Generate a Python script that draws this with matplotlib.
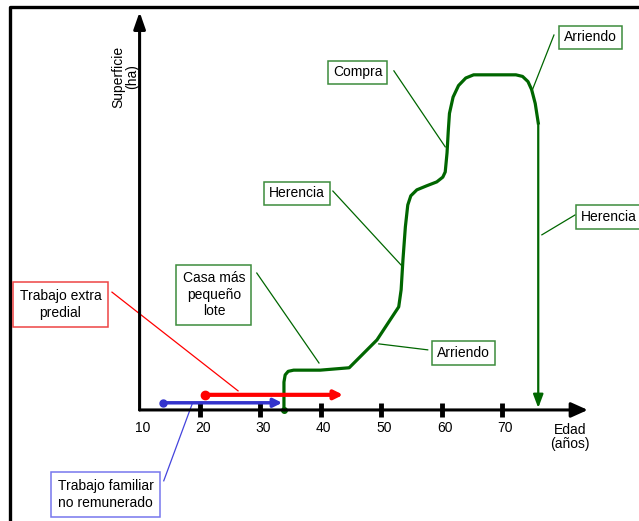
import matplotlib.pyplot as plt

# Datos
edad = [33.9, 33.9, 34.1, 34.6, 35.5, 39.9, 44.7, 49.3, 52.9, 53.3, 53.6, 54.0, 54.4,
        54.9, 55.9, 57.5, 59.2, 60.2, 60.6, 60.9, 61.1, 61.3, 61.9, 62.8, 64.0, 65.3,
        72.3, 73.4, 74.3, 74.9, 75.5, 76.0]
superficie = [0.0, 7.0, 8.8, 9.7, 10.0, 10.0, 10.6, 17.6, 25.9, 30.2, 37.7, 46.0, 51.5,
              53.8, 55.3, 56.3, 57.3, 58.5, 59.8, 64.6, 70.0, 74.5, 78.6, 81.5, 83.4, 84.2,
              84.2, 83.8, 82.5, 80.5, 77.0, 72.1]
edad_herencia = 76.0
ticks = [20, 30, 40, 50, 60, 70]
tick_labels = ['10', '20', '30', '40', '50', '60', '70']
extra_predial = [20.8, 43.7]
nivel_extra = 3.8
familiar = [13.9, 33.6]
nivel_familiar = 1.8

fuente = ['Liberation Sans Narrow', 'Liberation Sans', 'DejaVu Sans']
plt.rcParams['font.family'] = fuente

fig = plt.figure(figsize=(6.39, 5.21), dpi=100)
ax = fig.add_axes([0, 0, 1, 1])
ax.set_xlim(-13.11, 92.68)
ax.set_ylim(-27.9, 103.0)
ax.axis('off')

verde = '#006600'
verde_caja = '#3c8c3c'

# marco
ax.plot([10/639, 10/639, 1.01], [-0.01, 1 - 7/521, 1 - 7/521], color='black', lw=2.4,
        transform=ax.transAxes, clip_on=False)

# ejes con flechas
ax.annotate('', xy=(84.2, 0), xytext=(10, 0),
            arrowprops=dict(arrowstyle='-|>,head_length=1.0,head_width=0.45', color='black', lw=2.2,
                            shrinkA=0, shrinkB=0))
ax.annotate('', xy=(10, 100), xytext=(10, 0),
            arrowprops=dict(arrowstyle='-|>,head_length=1.0,head_width=0.35', color='black', lw=2.2,
                            shrinkA=0, shrinkB=0))
for t in ticks:
    ax.plot([t, t], [-1.7, 1.7], color='black', lw=3.5, solid_capstyle='butt')
for i, lab in enumerate(tick_labels):
    ax.text(10 + 10 * i + 0.5, -4.5, lab, ha='center', va='center', fontsize=10)

ax.text(81.3, -6.8, 'Edad\n(años)', ha='center', va='center', fontsize=10, linespacing=1.0)
ax.text(7.6, 83.7, 'Superficie\n(ha)', ha='center', va='center', fontsize=10, rotation=90,
        linespacing=1.0)

# curva de superficie
ax.plot(edad, superficie, color=verde, lw=2.3, solid_joinstyle='round')
ax.plot([edad[0]], [0], 'o', color=verde, ms=4)
ax.annotate('', xy=(edad_herencia, 0.5), xytext=(edad_herencia, superficie[-1]),
            arrowprops=dict(arrowstyle='-|>,head_length=0.8,head_width=0.3', color=verde, lw=1.6,
                            shrinkA=0, shrinkB=0))

# trabajo extra predial y familiar
ax.annotate('', xy=(extra_predial[1], nivel_extra), xytext=(extra_predial[0], nivel_extra),
            arrowprops=dict(arrowstyle='-|>,head_length=0.5,head_width=0.25', color='red', lw=3,
                            shrinkA=0, shrinkB=0))
ax.plot([extra_predial[0]], [nivel_extra], 'o', color='red', ms=6)
ax.annotate('', xy=(familiar[1], nivel_familiar), xytext=(familiar[0], nivel_familiar),
            arrowprops=dict(arrowstyle='-|>,head_length=0.5,head_width=0.25', color='#3333cc', lw=2.5,
                            shrinkA=0, shrinkB=0))
ax.plot([familiar[0]], [nivel_familiar], 'o', color='#3333cc', ms=5)

# cajas de texto con conectores
def caja(x, y, txt, borde, pad=0.35):
    ax.text(x, y, txt, ha='center', va='center', fontsize=10, linespacing=1.25,
            bbox=dict(boxstyle='square,pad=%s' % pad, fc='white', ec=borde, lw=1.1))

def linea(x0, y0, x1, y1, color):
    ax.plot([x0, x1], [y0, y1], color=color, lw=0.9)

linea(5.43, 29.6, 26.3, 4.8, 'red')
caja(-3.1, 26.5, 'Trabajo extra\npredial', '#ee4444', pad=0.5)

linea(29.4, 34.4, 39.7, 11.8, verde)
caja(22.3, 29.0, 'Casa más\npequeño\nlote', verde_caja, pad=0.45)

linea(42.0, 55.0, 53.3, 36.4, verde)
caja(36.1, 54.4, 'Herencia', verde_caja)

linea(52.1, 85.2, 60.6, 66.1, verde)
caja(46.1, 84.8, 'Compra', verde_caja)

linea(78.6, 94.2, 75.1, 80.7, verde)
caja(84.65, 93.6, 'Arriendo', verde_caja)

linea(82.1, 49.0, 76.6, 44.0, verde)
caja(87.7, 48.4, 'Herencia', verde_caja)

linea(57.7, 15.1, 49.6, 16.6, verde)
caja(63.6, 14.4, 'Arriendo', verde_caja)

linea(14.0, -17.8, 18.7, 1.5, '#4444dd')
caja(4.35, -21.2, 'Trabajo familiar\nno remunerado', '#7777ee', pad=0.5)

fig.savefig('out.png', dpi=100)
